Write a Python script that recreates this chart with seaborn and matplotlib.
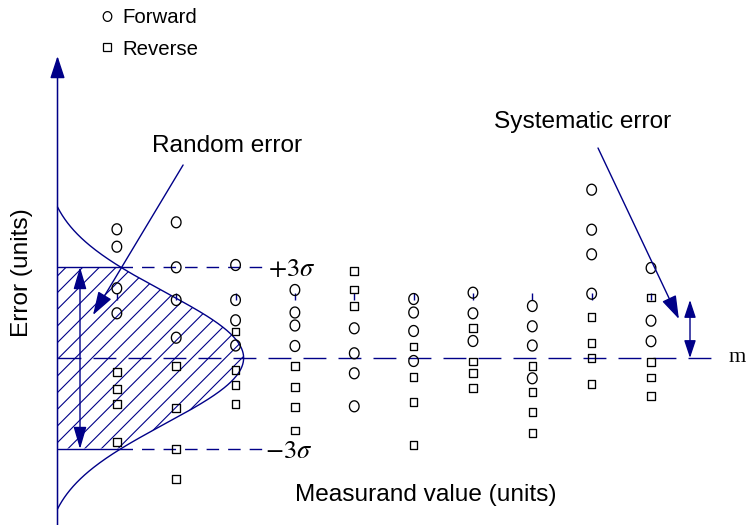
import numpy as np
import pandas as pd
import matplotlib
matplotlib.use("Agg")
import matplotlib.pyplot as plt
from matplotlib.path import Path
from matplotlib.lines import Line2D
import seaborn as sns

# ---- data: error readings at each measurand value ----
measurand = [1, 2, 3, 4, 5, 6, 7, 8, 9, 10]
forward_errors = [
    [7.07, 5.33, 1.17, -1.33],
    [7.77, 3.27, 0.0, -3.77],
    [3.5, 0.0, -2.03, -4.55],
    [1.0, -1.25, -2.55, -4.6],
    [-2.83, -5.33, -7.33, -10.63],
    [0.1, -1.25, -3.1, -6.1],
    [0.73, -1.33, -4.1],
    [-0.6, -2.63, -4.55, -7.83],
    [11.03, 7.03, 4.57, 0.63],
    [3.2, -2.07, -4.12],
]
reverse_errors = [
    [-7.17, -8.9, -10.4, -14.17],
    [-6.6, -10.77, -14.93, -17.93],
    [-3.15, -6.97, -8.5, -10.37],
    [-6.6, -8.67, -10.73, -13.05],
    [2.93, 1.05, -0.57],
    [-4.65, -7.7, -10.2, -14.5],
    [-2.8, -6.15, -7.33, -8.83],
    [-6.6, -9.23, -11.17, -13.27],
    [-1.67, -4.33, -5.8, -8.42],
    [0.25, -6.18, -7.75, -9.58],
]
direction_labels = ["Forward", "Reverse"]

# mean of the readings (systematic offset) and the +-3 sigma band half-width
mean_error = -5.8
three_sigma = 9.1

rows = []
for xv, fw, rv in zip(measurand, forward_errors, reverse_errors):
    rows += [(xv, e, "Forward") for e in fw]
    rows += [(xv, e, "Reverse") for e in rv]
df = pd.DataFrame(rows, columns=["measurand", "error", "direction"])

# ---- style ----
sns.set_style("white")
plt.rcParams["font.family"] = ["Liberation Sans", "DejaVu Sans"]
plt.rcParams["text.color"] = "black"
plt.rcParams["mathtext.fontset"] = "stix"
plt.rcParams["lines.scale_dashes"] = False
plt.rcParams["hatch.linewidth"] = 0.8
NAVY = "#000088"
plt.rcParams["hatch.color"] = NAVY

fig = plt.figure(figsize=(7.56, 5.25), dpi=100)
ax = fig.add_axes([0, 0, 1, 1])
ax.set_xlim(-0.969, 11.769)
ax.set_ylim(-22.5, 30.0)
ax.axis("off")

# slightly tall open circle for the forward readings
t = np.linspace(0, 2 * np.pi, 60)
ellipse = Path(np.column_stack([0.44 * np.cos(t), 0.5 * np.sin(t)]), closed=True)

sns.scatterplot(
    data=df, x="measurand", y="error", style="direction",
    markers={"Forward": ellipse, "Reverse": "s"},
    size="direction", sizes={"Forward": 62, "Reverse": 30},
    color="white", edgecolor="black", linewidth=0.95,
    legend=False, ax=ax, zorder=3,
)
for coll in ax.collections:
    coll.set_facecolor("none")
    coll.set_edgecolor("black")

# ---- axes drawn as arrows ----
lw = 1.1
ax.annotate("", xy=(0, 24.4), xytext=(0, -22.5),
            arrowprops=dict(arrowstyle="-|>,head_length=13.7,head_width=4.5",
                            mutation_scale=1, color=NAVY, lw=lw,
                            shrinkA=0, shrinkB=0))
ax.annotate("", xy=(11.80, 0), xytext=(0, 0),
            arrowprops=dict(arrowstyle="-|>,head_length=13.7,head_width=4.5",
                            mutation_scale=1, color=NAVY, lw=lw,
                            shrinkA=0, shrinkB=0))
ax.vlines(measurand, 0, 0.7, color=NAVY, lw=1.0)

# ---- distribution of the readings about the mean ----
s_curve, half_span, amp = 6.6, 15.1, 3.383
yc = np.linspace(mean_error - half_span, mean_error + half_span, 400)
base = np.exp(-half_span ** 2 / (2 * s_curve ** 2))
xc = amp * (np.exp(-(yc - mean_error) ** 2 / (2 * s_curve ** 2)) - base)
ax.plot(xc, yc, color=NAVY, lw=1.0)

upper = mean_error + three_sigma
lower = mean_error - three_sigma
band = (yc >= lower) & (yc <= upper)
ax.fill_betweenx(yc[band], 0, xc[band], facecolor="none", edgecolor=NAVY,
                 hatch="//", linewidth=0)
x_edge = amp * (np.exp(-three_sigma ** 2 / (2 * s_curve ** 2)) - base)
for yv in (upper, lower):
    ax.plot([0, x_edge], [yv, yv], color=NAVY, lw=1.0)
    ax.plot([x_edge, 3.446], [yv, yv], color=NAVY, lw=1.0, dashes=(9, 6.5))
ax.text(3.55, upper - 0.2, r"$+3\sigma$", fontsize=19, ha="left", va="center")
ax.text(3.50, lower - 0.2, r"$-3\sigma$", fontsize=19, ha="left", va="center")

# mean line
ax.plot([0, 11.2], [mean_error, mean_error], color=NAVY, lw=1.0,
        dashes=(16.5, 8.7))
ax.text(11.30, mean_error, "m", fontsize=16, family="Liberation Serif",
        ha="left", va="center")

# spread of the band and offset of the mean
ax.annotate("", xy=(0.379, upper), xytext=(0.379, lower),
            arrowprops=dict(arrowstyle="<|-|>,head_length=13.7,head_width=4.0",
                            mutation_scale=1, color=NAVY, lw=1.0,
                            shrinkA=0, shrinkB=0))
ax.annotate("", xy=(10.657, 0), xytext=(10.657, mean_error),
            arrowprops=dict(arrowstyle="<|-|>,head_length=10.8,head_width=3.6",
                            mutation_scale=1, color=NAVY, lw=1.0,
                            shrinkA=0, shrinkB=0))

# callouts
ax.text(2.857, 15.4, "Random error", fontsize=17.6, ha="center", va="center")
ax.annotate("", xy=(0.598, -1.5), xytext=(2.116, 13.5),
            arrowprops=dict(arrowstyle="-|>,head_length=14.4,head_width=4.7",
                            mutation_scale=1, color=NAVY, lw=1.0,
                            shrinkA=0, shrinkB=0))
ax.text(8.855, 17.8, "Systematic error", fontsize=17.6, ha="center", va="center")
ax.annotate("", xy=(10.47, -1.9), xytext=(9.107, 15.2),
            arrowprops=dict(arrowstyle="-|>,head_length=14.4,head_width=4.7",
                            mutation_scale=1, color=NAVY, lw=1.0,
                            shrinkA=0, shrinkB=0))

# axis titles
ax.text(6.209, -19.5, "Measurand value (units)", fontsize=17.6,
        ha="center", va="center")
ax.text(-0.598, 2.7, "Error (units)", fontsize=17.6, rotation=90,
        ha="center", va="center")

# legend
handles = [
    Line2D([], [], marker=ellipse, ls="none", ms=7.0, mfc="none", mec="black", mew=0.9),
    Line2D([], [], marker="s", ls="none", ms=5.4, mfc="none", mec="black", mew=0.9),
]
ax.legend(handles, direction_labels, loc="upper left",
          bbox_to_anchor=(0.1335, 0.985), frameon=False, fontsize=14.7,
          handlelength=0.6, handletextpad=0.45, labelspacing=0.62,
          borderpad=0.0, borderaxespad=0.0)

fig.savefig("out.png", dpi=100)
